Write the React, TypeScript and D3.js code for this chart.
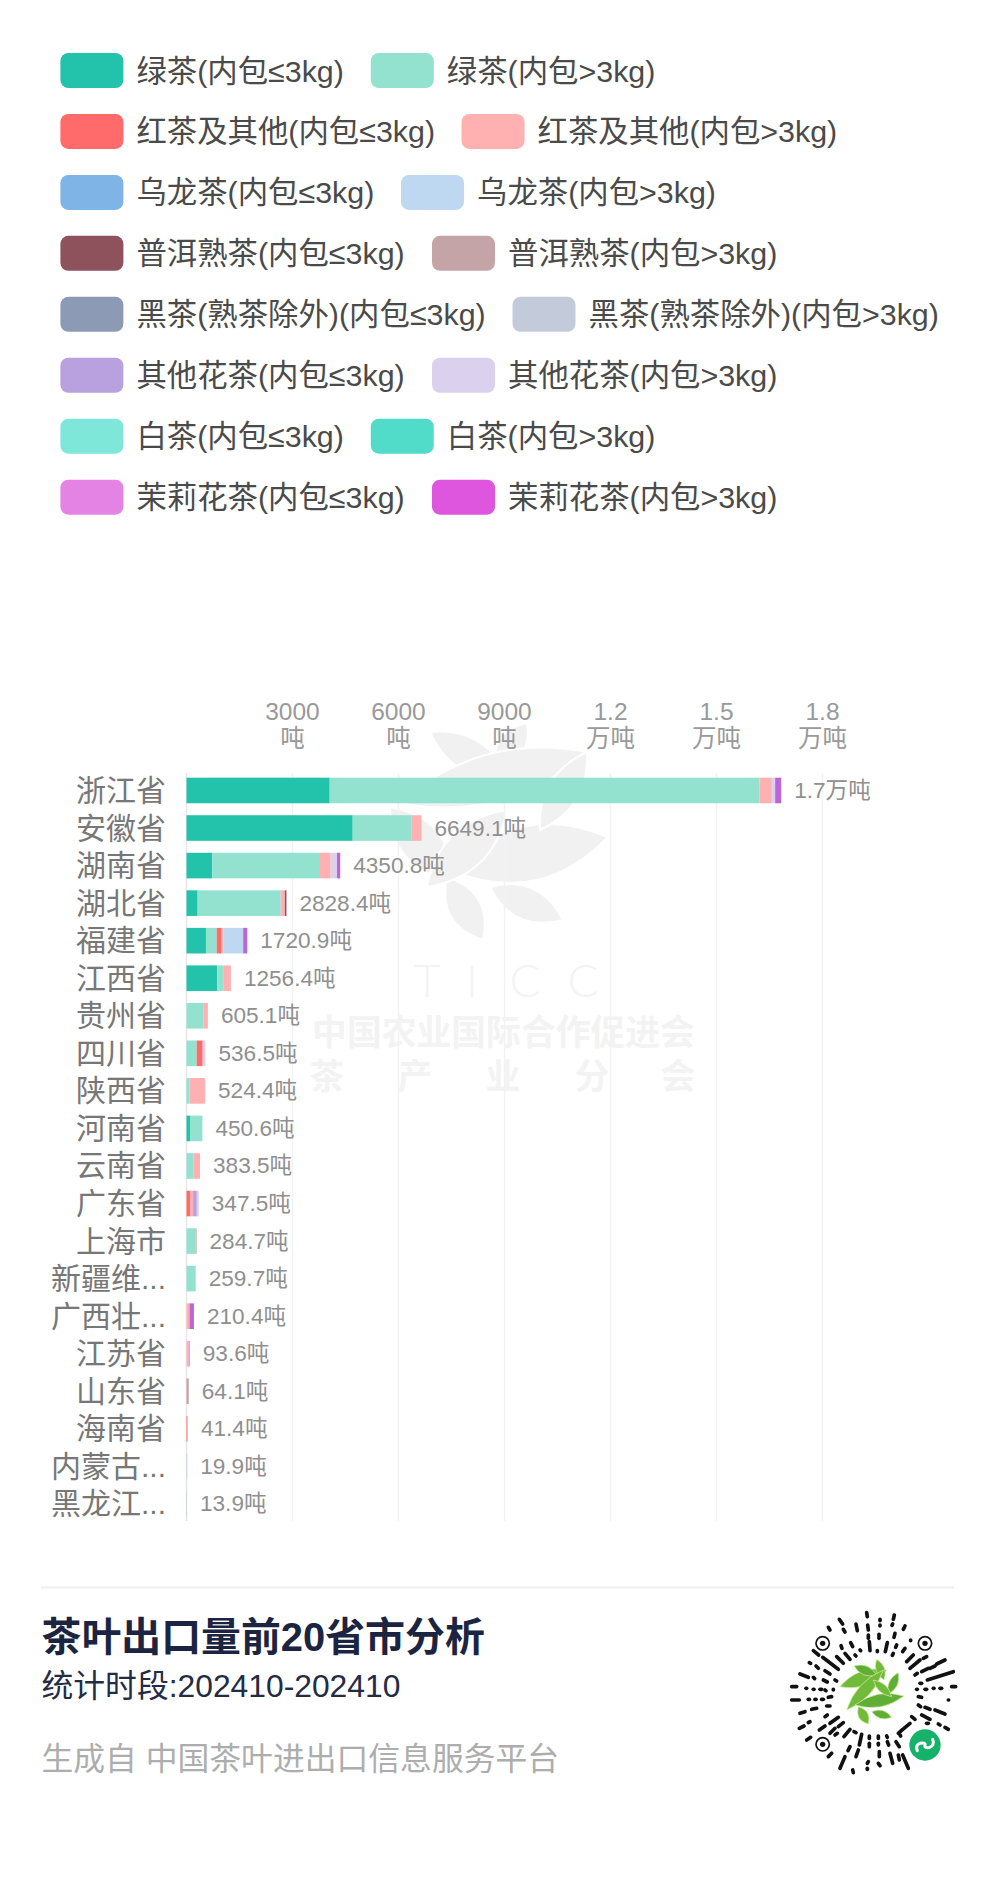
import React from 'react';
import * as d3 from 'd3';

const provinces = ['浙江省','安徽省','湖南省','湖北省','福建省','江西省','贵州省','四川省','陕西省','河南省','云南省','广东省','上海市','新疆维...','广西壮...','江苏省','山东省','海南省','内蒙古...','黑龙江...'];
const totalLabels = ['1.7万吨','6649.1吨','4350.8吨','2828.4吨','1720.9吨','1256.4吨','605.1吨','536.5吨','524.4吨','450.6吨','383.5吨','347.5吨','284.7吨','259.7吨','210.4吨','93.6吨','64.1吨','41.4吨','19.9吨','13.9吨'];
const greenSmall = [4053,4704,730,315,551,870,0,0,0,100,0,0,0,0,0,0,0,0,0,0];
const greenLarge = [12164,1670,3048,2350,304,169,474,288,85,350.6,192,0,265,259.7,0,0,0,0,0,0];
const redSmall = [0,0,0,0,121,0,0,170,0,0,0,113,0,0,0,0,0,20,0,0];
const redLarge = [349,275.1,303,118.4,65,217.4,131.1,0,439.4,0,191.5,75,0,0,85,60,0,21.4,0,0];
const oolongSmall = [0,0,0,0,0,0,0,0,0,0,0,0,0,0,0,0,0,0,0,0];
const oolongLarge = [0,0,0,0,563,0,0,0,0,0,0,0,0,0,0,0,0,0,0,0];
const puerSmall = [0,0,0,45,0,0,0,0,0,0,0,0,0,0,0,0,0,0,0,0];
const puerLarge = [0,0,0,0,0,0,0,0,0,0,0,0,19.7,0,0,0,64.1,0,0,0];
const darkSmall = [0,0,0,0,0,0,0,0,0,0,0,0,0,0,0,0,0,0,0,0];
const darkLarge = [0,0,0,0,0,0,0,0,0,0,0,0,0,0,0,0,0,0,19.9,13.9];
const flowerSmall = [0,0,0,0,0,0,0,0,0,0,0,103.5,0,0,0,0,0,0,0,0];
const flowerLarge = [94,0,179,0,0,0,0,78.5,0,0,0,56,0,0,0,0,0,0,0,0];
const whiteSmall = [0,0,0,0,0,0,0,0,0,0,0,0,0,0,0,0,0,0,0,0];
const whiteLarge = [0,0,0,0,0,0,0,0,0,0,0,0,0,0,0,0,0,0,0,0];
const jasmineSmall = [0,0,0,0,0,0,0,0,0,0,0,0,0,0,0,33.6,0,0,0,0];
const jasmineLarge = [170,0,90.8,0,116.9,0,0,0,0,0,0,0,0,0,125.4,0,0,0,0,0];

const seriesValues = [greenSmall,greenLarge,redSmall,redLarge,oolongSmall,oolongLarge,puerSmall,puerLarge,darkSmall,darkLarge,flowerSmall,flowerLarge,whiteSmall,whiteLarge,jasmineSmall,jasmineLarge];
const teaNames = ['绿茶','红茶及其他','乌龙茶','普洱熟茶','黑茶(熟茶除外)','其他花茶','白茶','茉莉花茶'];
const seriesColors = ['#22c3aa','#92e2cf','#ff6a6a','#ffb1b1','#7fb5e6','#bfd8f2','#8e525c','#c4a4a6','#8c9ab5','#c3cbdb','#b8a1de','#dbd0ee','#7fe6da','#50dcc8','#e583e5','#de55de'];
const barColors = [...seriesColors.slice(0,15),'#bd65d6'];
const ticks = [3000,6000,9000,12000,15000,18000];
const tickLines = [['3000','吨'],['6000','吨'],['9000','吨'],['1.2','万吨'],['1.5','万吨'],['1.8','万吨']];
const secondSwatchX = [370.8,461.5,401,432,512.5,432,370.8,432];

const FONT = '"Liberation Sans","Noto Sans CJK SC",sans-serif';

const leaf = (x1:number,y1:number,x2:number,y2:number,w:number) => {
  const mx=(x1+x2)/2, my=(y1+y2)/2, dx=x2-x1, dy=y2-y1, l=Math.hypot(dx,dy)||1;
  const nx=-dy/l*w/1.3, ny=dx/l*w/1.3;
  return `M${x1},${y1}Q${mx+nx},${my+ny} ${x2},${y2}Q${mx-nx},${my-ny} ${x1},${y1}Z`;
};
const watermarkLeaves = [
  [430,732,507,777,42],[527,723,496,768,34],[587,752,400,803,62],[608,837,450,870,72],
  [587,752,540,830,40],[390,807,452,880,52],[447,877,483,940,42],[490,887,563,920,42],[507,810,427,887,50],
];
const orgChars = ['茶','产','业','分','会'];
const orgX = [327,415,503,592,678];
const ticcChars = ['T','I','C','C'];
const ticcX = [427,472,525,583];

const qrDashes = [
[260,38,262,50],[300,58,300,62],[343,45,340,58],[178,58,188,72],[145,82,150,90],[228,72,232,92],[263,75,265,90],[300,75,300,78],[375,78,370,88],[190,88,195,96],[338,72,336,76],
[265,105,265,115],[297,103,297,115],[345,100,342,112],[392,120,392,122],[183,137,186,145],[212,128,218,140],[268,125,270,152],[322,128,316,155],[375,145,368,155],[350,135,347,142],[240,150,242,152],[292,152,292,155],[340,160,337,166],[225,165,228,168],
[100,152,116,165],[128,172,175,208],[170,170,190,190],[195,160,210,178],[400,165,380,185],[420,180,390,205],[430,175,440,170],[495,180,470,192],[450,205,465,198],[425,215,445,205],[405,225,412,220],
[520,215,442,240],[60,222,85,232],[88,188,92,190],[108,198,115,205],[135,212,150,222],[100,232,104,236],[130,240,142,246],[160,268,160,270],[135,270,138,272],[165,240,170,243],
[35,260,50,260],[78,265,80,265],[100,268,102,268],[120,268,125,268],[420,250,425,250],[435,268,440,268],[460,265,462,265],[480,265,485,265],[515,260,527,260],[410,268,412,268],
[35,300,58,300],[85,298,88,298],[105,298,108,298],[125,298,130,298],[145,292,155,290],[415,290,425,292],[505,300,506,300],[415,315,422,320],[435,322,450,328],[465,330,495,342],
[60,340,75,335],[95,328,110,325],[140,318,150,318],[135,350,142,345],[425,345,450,358],[58,385,72,378],[85,368,90,365],[118,390,135,378],[150,370,175,352],[395,350,405,358],[440,370,445,370],[475,372,480,375],[495,382,505,388],
[80,420,92,412],[150,400,165,385],[175,380,190,368],[192,410,210,388],[222,395,228,398],[355,400,368,388],[372,385,390,370],[165,405,172,400],
[245,403,238,435],[268,408,268,415],[295,408,295,415],[320,408,322,412],[348,425,358,440],[210,440,204,452],[268,430,268,440],[295,430,295,435],[322,425,326,435],[360,405,362,408],
[235,450,228,470],[145,470,155,460],[180,505,195,470],[265,485,262,490],[262,505,262,508],[298,455,298,470],[295,490,300,497],[330,460,338,490],[368,465,385,505],[355,465,358,480],[218,510,220,518],
];
const qrFinders = [[128,130],[435,130],[128,433]];
const qrLeaves = [
  [180,260,320,210,56],[222,198,290,225,36],[290,178,312,240,34],[355,218,325,282,34],[200,330,310,210,48],
  [225,315,372,288,50],[235,320,265,372,38],[275,335,335,352,32],[280,240,335,290,32],
];

const x = d3.scaleLinear().domain([0,18000]).range([186.5,822.5]);
const y = d3.scaleBand<string>().domain(provinces).range([771.7,1522.7]).paddingInner(0.318).paddingOuter(0.159);
const rows = provinces.map((p,i)=>{
  const r:any = {province:p};
  seriesValues.forEach((v,k)=>{r[k]=v[i];});
  return r;
});
const stacked = d3.stack<any>().keys(seriesValues.map((_,k)=>String(k)))(rows);
const totals = provinces.map((_,i)=>d3.sum(seriesValues,v=>v[i]));

export default function App() {
  const bw = y.bandwidth();
  return (
    <svg width={1000} height={1895} viewBox="0 0 1000 1895" style={{position:'absolute',left:0,top:0,background:'#fff'}} fontFamily={FONT}>
      <rect width={1000} height={1895} fill="#fff"/>
      {/* legend */}
      {teaNames.map((n,i)=>{
        const cy = 70.5+i*60.95;
        return (
          <g key={n}>
            <rect x={60.4} y={cy-17.5} width={63} height={35} rx={8} fill={seriesColors[i*2]}/>
            <text x={136.4} y={cy} dominantBaseline="central" fontSize={30.4} fill="#4a4a4a">{n+'(内包≤3kg)'}</text>
            <rect x={secondSwatchX[i]} y={cy-17.5} width={63} height={35} rx={8} fill={seriesColors[i*2+1]}/>
            <text x={secondSwatchX[i]+76} y={cy} dominantBaseline="central" fontSize={30.4} fill="#4a4a4a">{n+'(内包>3kg)'}</text>
          </g>
        );
      })}
      {/* watermark */}
      <g fill="#f1f1f1">
        {watermarkLeaves.map((l,i)=><path key={i} d={leaf(l[0],l[1],l[2],l[3],l[4])} stroke="#fff" strokeWidth={2}/>)}
      </g>
      <g fill="#f3f3f3" textAnchor="middle">
        {ticcChars.map((c,i)=><text key={i} x={ticcX[i]} y={979} fontSize={46} fontWeight={300} fontFamily="Lato,sans-serif" dominantBaseline="central">{c}</text>)}
        <text x={503.5} y={1032} fontSize={34.8} fontWeight={700} dominantBaseline="central">中国农业国际合作促进会</text>
        {orgChars.map((c,i)=><text key={i} x={orgX[i]} y={1076} fontSize={34.8} fontWeight={700} dominantBaseline="central">{c}</text>)}
      </g>
      {/* grid */}
      {ticks.map(t=><line key={t} x1={x(t)} x2={x(t)} y1={773} y2={1521} stroke="#f2f2f2" strokeWidth={1.5}/>)}
      <line x1={x(0)} x2={x(0)} y1={773} y2={1521} stroke="#e6e6e6" strokeWidth={1.5}/>
      {/* tick labels */}
      {ticks.map((t,i)=>(
        <text key={t} textAnchor="middle" fontSize={24.5} fill="#999" dominantBaseline="central">
          <tspan x={x(t)} y={711}>{tickLines[i][0]}</tspan>
          <tspan x={x(t)} y={738}>{tickLines[i][1]}</tspan>
        </text>
      ))}
      {/* bars */}
      {stacked.map((s,k)=>(
        <g key={k} fill={barColors[k]}>
          {s.map((d,i)=> d[1]>d[0] ? <rect key={i} x={x(d[0])} y={y(provinces[i])} width={x(d[1])-x(d[0])} height={bw}/> : null)}
        </g>
      ))}
      {/* category labels and totals */}
      {provinces.map((p,i)=>{
        const cy=(y(p) as number)+bw/2;
        return (
          <g key={p}>
            <text x={166} y={cy} textAnchor="end" dominantBaseline="central" fontSize={30} fill="#777">{p}</text>
            <text x={x(totals[i])+13} y={cy} dominantBaseline="central" fontSize={22.6} fill="#8f8f8f">{totalLabels[i]}</text>
          </g>
        );
      })}
      {/* footer */}
      <line x1={41} x2={954} y1={1587.5} y2={1587.5} stroke="#f0f0f0" strokeWidth={2}/>
      <text x={41.5} y={1637} dominantBaseline="central" fontSize={39.9} fontWeight={700} fill="#1b2440">茶叶出口量前20省市分析</text>
      <text x={41.5} y={1686} dominantBaseline="central" fontSize={31.8} fill="#232b45">统计时段:202410-202410</text>
      <text x={41.5} y={1759} dominantBaseline="central" fontSize={31.8} fill="#adadad">生成自 中国茶叶进出口信息服务平台</text>
      {/* mini-program code */}
      <g transform="translate(780,1600) scale(0.3333)">
        {qrDashes.map((d,i)=><line key={i} x1={d[0]} y1={d[1]} x2={d[2]} y2={d[3]} stroke="#111" strokeWidth={11} strokeLinecap="round"/>)}
        {qrFinders.map((f,i)=>(
          <g key={i}>
            <circle cx={f[0]} cy={f[1]} r={20} fill="none" stroke="#111" strokeWidth={5}/>
            <circle cx={f[0]} cy={f[1]} r={8} fill="#111"/>
          </g>
        ))}
        {qrLeaves.map((l,i)=><path key={i} d={leaf(l[0],l[1],l[2],l[3],l[4])} fill={i%2?'#5fae35':'#72bb3a'} stroke="#d8f0a8" strokeWidth={2}/>)}
        <circle cx={435} cy={435} r={47} fill="#17b26a"/>
        <path d="M412,452 C400,425 440,425 435,435 C430,450 470,445 458,418" fill="none" stroke="#fff" strokeWidth={9} strokeLinecap="round"/>
      </g>
    </svg>
  );
}
